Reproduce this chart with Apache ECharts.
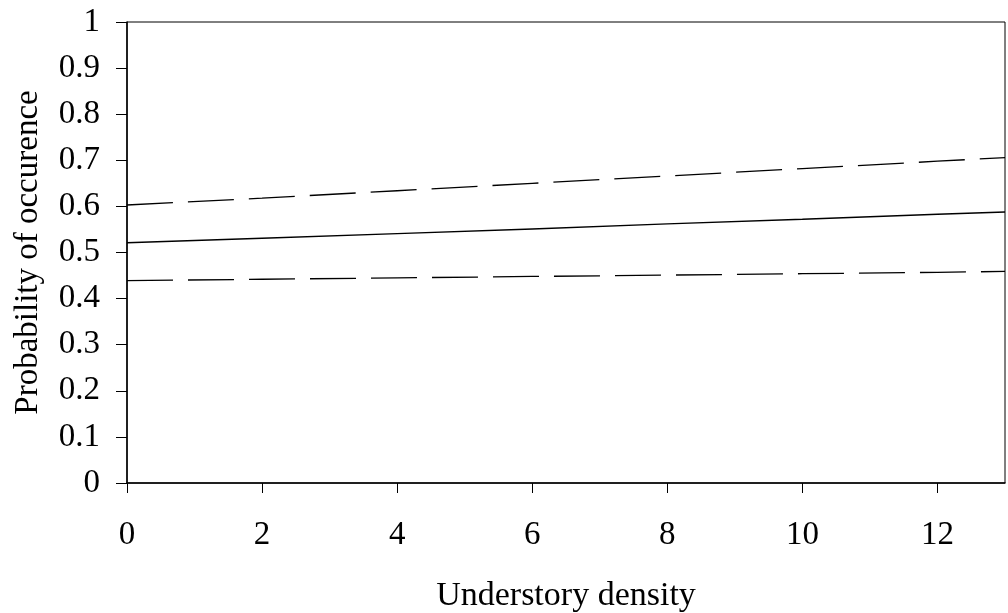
<!DOCTYPE html>
<html>
<head>
<meta charset="utf-8">
<script src="https://cdn.jsdelivr.net/npm/echarts@6/dist/echarts.min.js"></script>
<style>
  html, body { margin: 0; padding: 0; background: #fff; }
  #chart { width: 1008px; height: 613px; }
</style>
</head>
<body>
<div id="chart"></div>
<script>
// Understory density values where the fitted curves are sampled
const density = [0, 2, 4, 6, 8, 10, 12, 13];
// Fitted probability of occurrence
const fitted = [0.521, 0.531, 0.541, 0.551, 0.562, 0.572, 0.583, 0.588];
// Upper and lower confidence limits
const upperCI = [0.603, 0.618, 0.634, 0.650, 0.666, 0.682, 0.698, 0.706];
const lowerCI = [0.439, 0.442, 0.445, 0.448, 0.451, 0.454, 0.457, 0.459];

const xTicks = [0, 2, 4, 6, 8, 10, 12];
const yTicks = [0, 0.1, 0.2, 0.3, 0.4, 0.5, 0.6, 0.7, 0.8, 0.9, 1];

const pairs = (ys) => density.map((x, i) => [x, ys[i]]);
const font = 'Liberation Serif';

const chart = echarts.init(document.getElementById('chart'), null, { renderer: 'canvas' });
chart.setOption({
  animation: false,
  backgroundColor: '#fff',
  grid: {
    left: 127, top: 22, right: 3, bottom: 130,
    containLabel: false, outerBoundsMode: 'none',
    show: true, borderColor: '#000', borderWidth: 1, backgroundColor: 'transparent'
  },
  xAxis: {
    type: 'value', min: 0, max: 13, interval: 2,
    name: 'Understory density', nameLocation: 'middle', nameGap: 96,
    nameTextStyle: { fontFamily: font, fontSize: 34, color: '#000' },
    axisLine: { show: true, onZero: false, lineStyle: { color: '#000', width: 1.5 } },
    axisTick: { show: true, inside: false, length: 10, lineStyle: { color: '#000', width: 1 },
      customValues: xTicks },
    axisLabel: { fontFamily: font, fontSize: 33, color: '#000', margin: 36,
      customValues: xTicks },
    splitLine: { show: false }
  },
  yAxis: {
    type: 'value', min: 0, max: 1, interval: 0.1,
    name: 'Probability of occurence', nameLocation: 'middle', nameGap: 82,
    nameTextStyle: { fontFamily: font, fontSize: 33, color: '#000' },
    axisLine: { show: true, onZero: false, lineStyle: { color: '#000', width: 1.5 } },
    axisTick: { show: true, inside: false, length: 11, lineStyle: { color: '#000', width: 1 },
      customValues: yTicks },
    axisLabel: { fontFamily: font, fontSize: 33, color: '#000', margin: 27,
      customValues: yTicks, formatter: (v) => String(+v.toFixed(1)) },
    splitLine: { show: false }
  },
  series: [
    {
      name: 'Fitted', type: 'line', data: pairs(fitted), showSymbol: false, smooth: false,
      lineStyle: { color: '#000', width: 1.4, type: 'solid' }
    },
    {
      name: 'Upper', type: 'line', data: pairs(upperCI), showSymbol: false,
      lineStyle: { color: '#000', width: 1.3, type: [46, 15] }
    },
    {
      name: 'Lower', type: 'line', data: pairs(lowerCI), showSymbol: false,
      lineStyle: { color: '#000', width: 1.3, type: [46, 15] }
    }
  ]
});
</script>
</body>
</html>
